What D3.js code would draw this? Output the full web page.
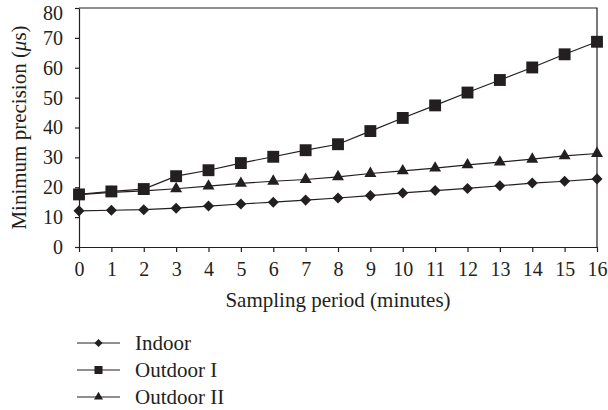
<!DOCTYPE html>
<html>
<head>
<meta charset="utf-8">
<script src="https://cdn.jsdelivr.net/npm/d3@7"></script>
<style>
  body { margin: 0; background: #fff; }
  text { font-family: "Liberation Serif", serif; fill: #231f20; }
  .axis path, .axis line { stroke: #231f20; stroke-width: 1.2; }
  .axis text { font-size: 20px; font-family: "Liberation Serif", serif; }
</style>
</head>
<body>
<div id="chart"></div>
<script>
// Sampling periods (minutes)
const periods = d3.range(0, 17);

const indoor    = [12.1, 12.3, 12.5, 13.0, 13.7, 14.4, 15.0, 15.7, 16.4, 17.2, 18.1, 18.9, 19.6, 20.5, 21.4, 22.0, 22.8];
const outdoorI  = [17.6, 18.6, 19.4, 23.7, 25.7, 28.1, 30.2, 32.4, 34.4, 38.8, 43.2, 47.4, 51.7, 55.9, 60.1, 64.5, 68.7];
const outdoorII = [17.5, 18.3, 18.8, 19.5, 20.4, 21.3, 22.0, 22.6, 23.5, 24.6, 25.5, 26.4, 27.5, 28.4, 29.4, 30.5, 31.3];

const yTicks = [0, 10, 20, 30, 40, 50, 60, 70, 80];

const series = [
    { name: "Indoor", values: indoor, symbol: d3.symbolDiamond2, size: 78, legendSize: 42 },
    { name: "Outdoor I", values: outdoorI, symbol: d3.symbolSquare2, size: 180, legendSize: 82 },
    { name: "Outdoor II", values: outdoorII, symbol: d3.symbolTriangle2, size: 103, legendSize: 58 }
];

const W = 608, H = 410;
const margin = { top: 8, right: 11, bottom: 163, left: 79 };
const width = W - margin.left - margin.right;
const height = H - margin.top - margin.bottom;

const svg = d3.select("#chart").append("svg")
    .attr("width", W)
    .attr("height", H);

const g = svg.append("g")
    .attr("transform", `translate(${margin.left},${margin.top})`);

const x = d3.scaleLinear().domain([0, 16]).range([0, width]);
const y = d3.scaleLinear().domain([0, 80]).range([height, 0]);

// frame (top and right)
g.append("path")
    .attr("d", `M0,0H${width}V${height}`)
    .attr("fill", "none")
    .attr("stroke", "#231f20")
    .attr("stroke-width", 1.2);

// axes
g.append("g")
    .attr("class", "axis")
    .attr("transform", `translate(0,${height})`)
    .call(d3.axisBottom(x).tickValues(periods).tickSize(5).tickPadding(10).tickSizeOuter(0));

g.append("g")
    .attr("class", "axis")
    .call(d3.axisLeft(y).tickValues(yTicks).tickSize(4).tickPadding(12).tickSizeOuter(0))
    // top label sits a little lower so it stays inside the picture
    .call(a => a.selectAll(".tick text").filter(d => d === 80).attr("dy", "0.55em"));

// axis titles
g.append("text")
    .attr("x", width / 2)
    .attr("y", height + 60)
    .attr("text-anchor", "middle")
    .style("font-size", "21px")
    .text("Sampling period (minutes)");

const yt = g.append("text")
    .attr("transform", `translate(${-53},${height / 2}) rotate(-90)`)
    .attr("text-anchor", "middle")
    .style("font-size", "21px");
yt.append("tspan").text("Minimum precision (");
yt.append("tspan").style("font-style", "italic").text("μ");
yt.append("tspan").text("s)");

// lines and markers
const line = d3.line()
    .x((d, i) => x(periods[i]))
    .y(d => y(d));

series.forEach(s => {
    g.append("path")
        .datum(s.values)
        .attr("fill", "none")
        .attr("stroke", "#231f20")
        .attr("stroke-width", 1.2)
        .attr("d", line);

    g.selectAll(null)
        .data(s.values)
        .enter().append("path")
        .attr("transform", (d, i) => `translate(${x(periods[i])},${y(d)})`)
        .attr("d", d3.symbol().type(s.symbol).size(s.size))
        .attr("fill", "#231f20");
});

// legend
const legend = svg.selectAll(".legend")
    .data(series)
    .enter().append("g")
    .attr("class", "legend")
    .attr("transform", (d, i) => `translate(77,${343 + i * 27})`);

legend.append("line")
    .attr("x1", 0).attr("x2", 43)
    .attr("stroke", "#231f20")
    .attr("stroke-width", 1.2);

legend.append("path")
    .attr("transform", "translate(21.5,0)")
    .attr("d", d => d3.symbol().type(d.symbol).size(d.legendSize)())
    .attr("fill", "#231f20");

legend.append("text")
    .attr("x", 58)
    .attr("dy", "0.35em")
    .style("font-size", "21px")
    .text(d => d.name);
</script>
</body>
</html>
